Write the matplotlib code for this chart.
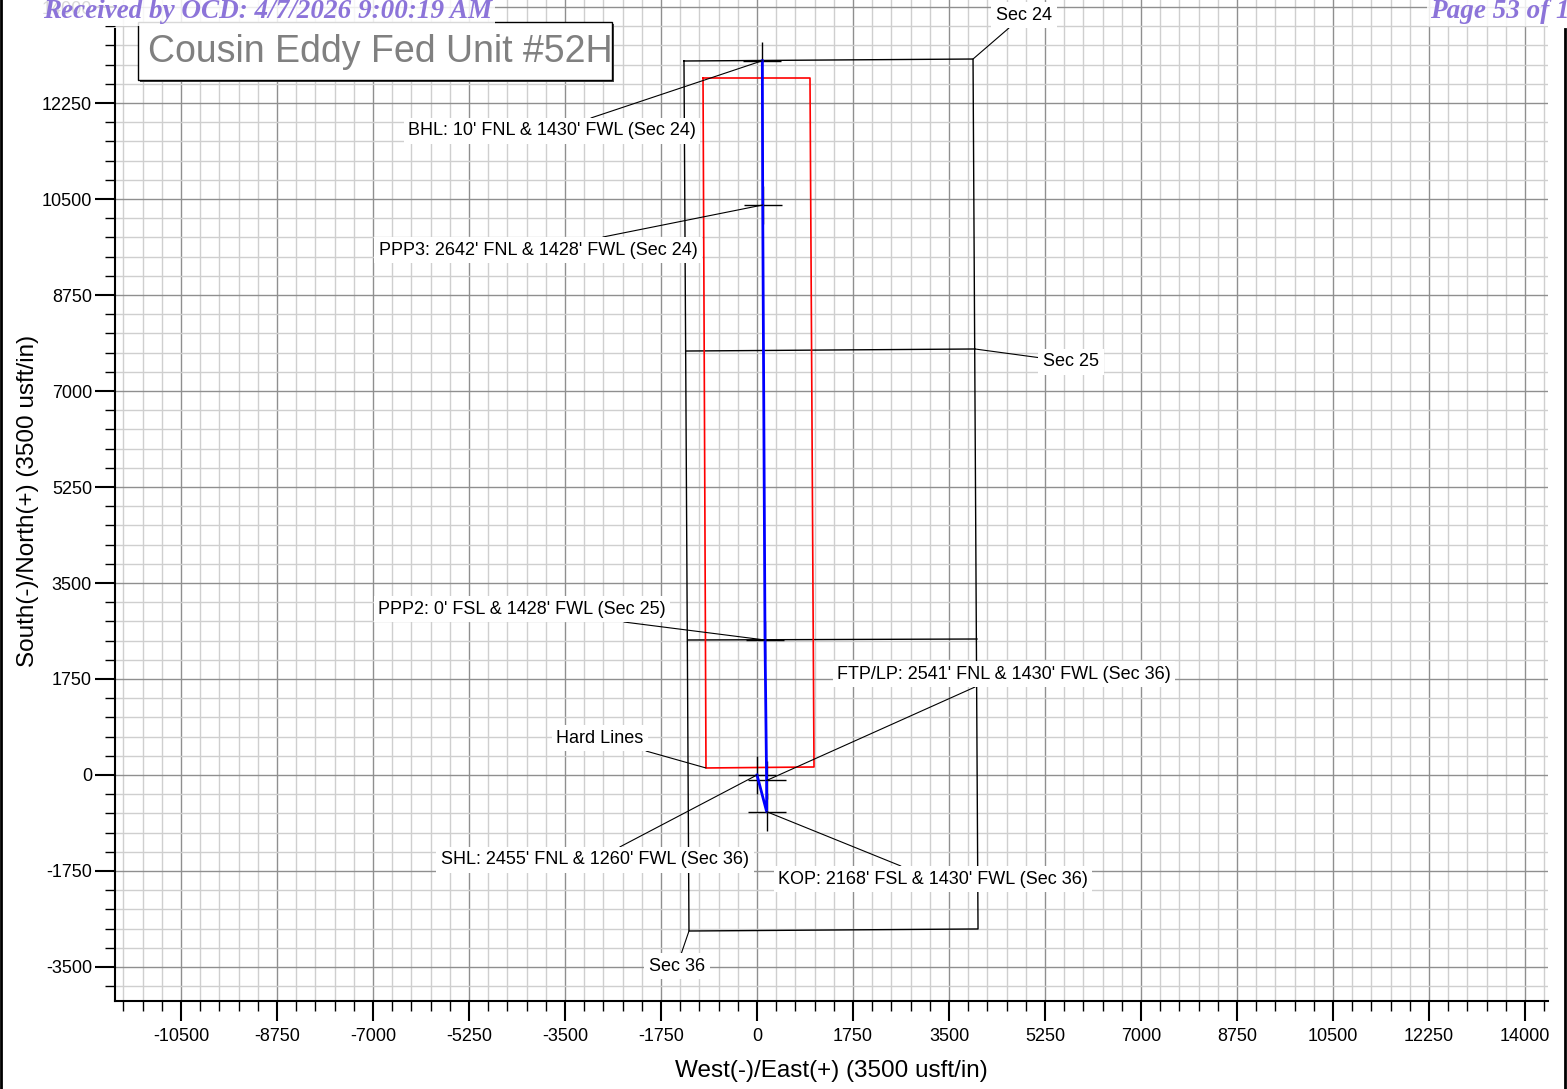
import matplotlib
matplotlib.use("Agg")
import matplotlib.pyplot as plt
from matplotlib.lines import Line2D
from matplotlib.patches import Rectangle
from matplotlib.ticker import MultipleLocator
import numpy as np

plt.rcParams['font.family'] = ['Liberation Sans', 'DejaVu Sans']
plt.rcParams['axes.unicode_minus'] = False

# well path (usft, relative to SHL)
well_ew = [0, 176, 175, 146, 104, 97]
well_ns = [0, -669, -100, 2461, 10391, 13021]

# survey points with crosshairs
pt_names = ["SHL", "FTP", "KOP", "PPP2", "PPP3", "BHL"]
pt_ew = [0, 175, 176, 146, 104, 97]
pt_ns = [0, -100, -669, 2461, 10391, 13021]

# section outline (Sec 24 / 25 / 36)
sec_ew = [-1331, 3938, 4029, -1240, -1331]
sec_ns = [13016, 13052, -2807, -2844, 13016]
sec25_ew = [-1294, 3974]
sec25_ns = [7729, 7766]
sec36_ew = [-1258, 4010]
sec36_ns = [2461, 2479]

# hard lines
hard_ew = [-984, 966, 1039, -930, -984]
hard_ns = [12706, 12706, 146, 128, 12706]

# labels: text, target (ew, ns), text position (ew, ns)
labels = [
    ("BHL: 10' FNL & 1430' FWL (Sec 24)", (97, 13021), (-3737, 11740)),
    ("PPP3: 2642' FNL & 1428' FWL (Sec 24)", (104, 10391), (-3992, 9570)),
    ("Sec 24", (3938, 13052), (4867, 13854)),
    ("Sec 25", (3974, 7766), (5724, 7529)),
    ("PPP2: 0' FSL & 1428' FWL (Sec 25)", (146, 2461), (-4284, 3026)),
    ("FTP/LP: 2541' FNL & 1430' FWL (Sec 36)", (175, -100), (4503, 1841)),
    ("Hard Lines", (-930, 128), (-2862, 674)),
    ("SHL: 2455' FNL & 1260' FWL (Sec 36)", (0, 0), (-2953, -1549)),
    ("KOP: 2168' FSL & 1430' FWL (Sec 36)", (176, -669), (3208, -1896)),
    ("Sec 36", (-1240, -2844), (-1458, -3482)),
]

x_ticks = np.arange(-10500, 14001, 1750)
y_ticks = np.arange(-3500, 14001, 1750)

fig = plt.figure(figsize=(15.67, 10.89), dpi=100)
ax = fig.add_axes([115/1567, 1-1001/1089, (1548-115)/1567, 1001/1089])

ax.set_xlim(-11703, 14419)
ax.set_ylim(-4120, 14128)

ax.xaxis.set_minor_locator(MultipleLocator(350))
ax.yaxis.set_minor_locator(MultipleLocator(350))
ax.set_xticks(x_ticks)
ax.set_yticks(y_ticks)

ax.grid(which='minor', color='#cfcfcf', lw=1.0, zorder=0)
ax.grid(which='major', color='#8f8f8f', lw=1.0, zorder=0)
ax.set_axisbelow(True)

for s in ['top', 'right']:
    ax.spines[s].set_visible(False)
ax.spines['left'].set_linewidth(1.5)
ax.spines['bottom'].set_linewidth(1.5)
ax.spines['left'].set_bounds(-4120, 13600)

ax.tick_params(which='major', length=14.5, width=1.5, labelsize=13)
ax.tick_params(axis='x', which='major', pad=5)
ax.tick_params(axis='y', which='major', pad=2)
ax.tick_params(which='minor', length=7, width=1)

ax.set_xlabel("West(-)/East(+) (3500 usft/in)", fontsize=17.5, labelpad=11)
ax.set_ylabel("South(-)/North(+) (3500 usft/in)", fontsize=17.5, labelpad=2)

# sections
ax.plot(sec_ew, sec_ns, color='black', lw=1, zorder=3)
ax.plot(sec25_ew, sec25_ns, color='black', lw=1, zorder=3)
ax.plot(sec36_ew, sec36_ns, color='black', lw=1, zorder=3)

# hard lines
ax.plot(hard_ew, hard_ns, color='red', lw=1.2, zorder=3)

# crosshairs
ax.plot(pt_ew, pt_ns, ls='none', marker='+', ms=27, mew=1, color='black', zorder=4)

# wellpath
ax.plot(well_ew, well_ns, color='blue', lw=2, zorder=5)

for txt, xy, xyt in labels:
    ax.annotate(txt, xy=xy, xytext=xyt, fontsize=13, ha='center', va='center',
                bbox=dict(boxstyle='square,pad=0.25', fc='white', ec='none'),
                arrowprops=dict(arrowstyle='-', color='black', lw=0.8,
                                shrinkA=0, shrinkB=0),
                zorder=6)

# title box with shadow
fig.patches.append(Rectangle((140/1567, 1-82/1089), 474/1567, 58/1089,
                             transform=fig.transFigure, fc='#444444', ec='none', zorder=1))
fig.patches.append(Rectangle((138/1567, 1-80/1089), 474/1567, 58/1089,
                             transform=fig.transFigure, fc='white', ec='black', lw=1, zorder=2))
fig.text(148/1567, 1-52/1089, "Cousin Eddy Fed Unit #52H", fontsize=27, color='#808080',
         ha='left', va='center', zorder=3)

# receipt stamp
stamp = dict(fontsize=19.5, color='#8c74d9', family='Liberation Serif',
             fontweight='bold', style='italic', va='center', zorder=5,
             bbox=dict(boxstyle='square,pad=0.1', fc='white', ec='none', alpha=0.85))
fig.text(43/1567, 1-11/1089, "Received by OCD: 4/7/2026 9:00:19 AM", ha='left', **stamp)
fig.text(1430/1567, 1-11/1089, "Page 53 of 1", ha='left', **stamp)

# page edges
fig.lines.append(Line2D([1/1567, 1/1567], [0, 1], transform=fig.transFigure, color='black', lw=2))
fig.lines.append(Line2D([1565/1567, 1565/1567], [0, 1-29/1089], transform=fig.transFigure,
                        color='black', lw=2))

fig.savefig("out.png", dpi=100)
